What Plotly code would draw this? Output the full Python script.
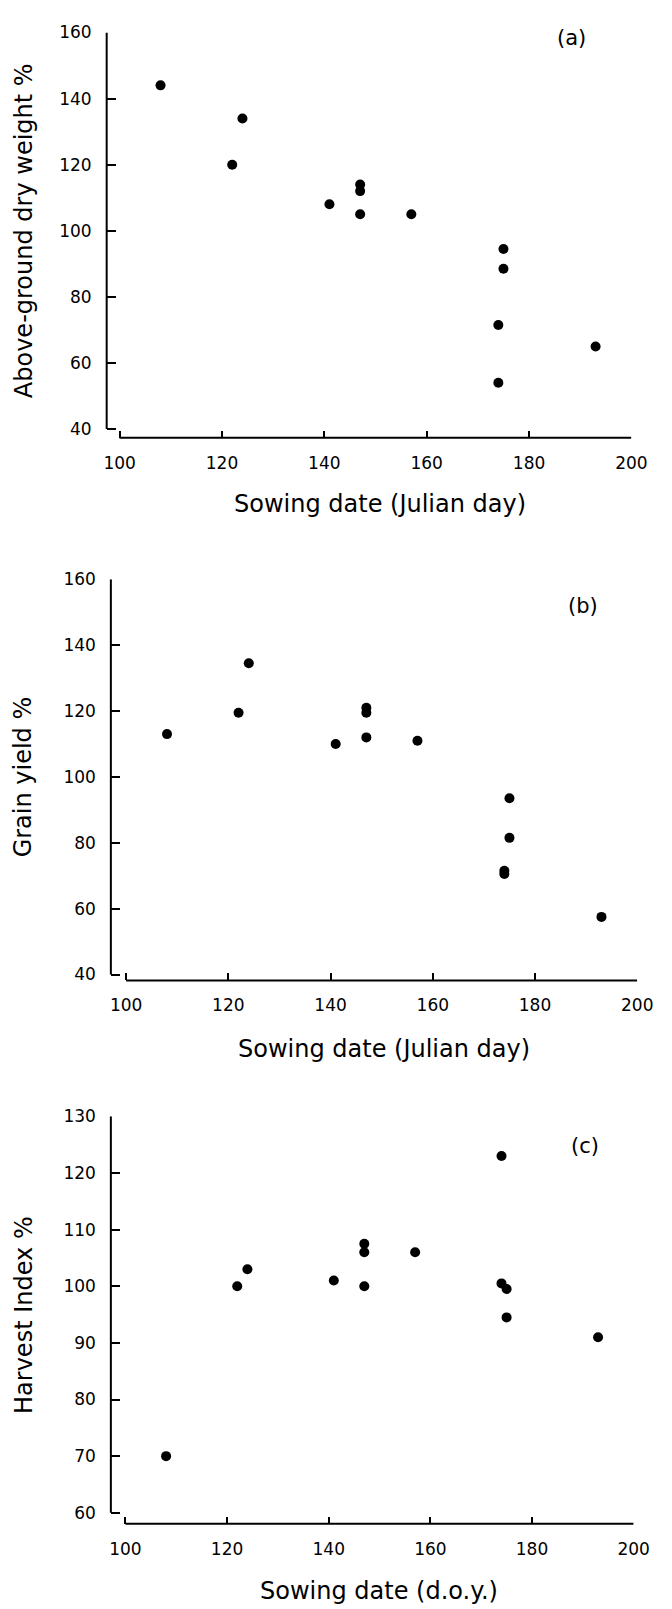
import plotly.graph_objects as go

# Sowing date (Julian day) and relative response (%) for each panel
sow_a = [108, 122, 124, 141, 147, 147, 147, 157, 175, 175, 174, 174, 193]
dry_weight = [144, 120, 134, 108, 114, 112, 105, 105, 94.5, 88.5, 71.5, 54, 65]

sow_b = [108, 122, 124, 141, 147, 147, 147, 157, 175, 175, 174, 174, 193]
grain_yield = [113, 119.5, 134.5, 110, 121, 119.5, 112, 111, 93.5, 81.5, 71.5, 70.5, 57.5]

sow_c = [108, 122, 124, 141, 147, 147, 147, 157, 174, 174, 175, 175, 193]
harvest_index = [70, 100, 103, 101, 107.5, 106, 100, 106, 123, 100.5, 99.5, 94.5, 91]

x_ticks = [100, 120, 140, 160, 180, 200]
y_ticks_ab = [40, 60, 80, 100, 120, 140, 160]
y_ticks_c = [60, 70, 80, 90, 100, 110, 120, 130]

W, H = 672, 1609
FONT = "DejaVu Sans"


def px_x(p):
    return p / W


def px_y(p):
    return 1 - p / H


# Panel frames in pixels. The y-axis line sits left of x=100 and the x-axis
# line sits below the lowest y tick, so the axis lines are detached at the corner.
panels = [
    dict(x=sow_a, y=dry_weight, yline=106.7, x_lo_px=120, x_hi_px=646.7,
         y_hi_px=22.7, y_lo_px=422.7, xline=431.5, yrange=(40, 160), yticks=y_ticks_ab,
         ytitle="Above-ground dry weight %", ytitle_y=222.7,
         xtitle="Sowing date (Julian day)", xtitle_y=498, xtitle_x=388,
         tag="(a)", tag_xy=(584.7, 28.3)),
    dict(x=sow_b, y=grain_yield, yline=111, x_lo_px=126.7, x_hi_px=652.7,
         y_hi_px=574.3, y_lo_px=973, xline=979, yrange=(40, 160), yticks=y_ticks_ab,
         ytitle="Grain yield %", ytitle_y=773.7,
         xtitle="Sowing date (Julian day)", xtitle_y=1048, xtitle_x=392,
         tag="(b)", tag_xy=(597.3, 601.7)),
    dict(x=sow_c, y=harvest_index, yline=111, x_lo_px=126, x_hi_px=649,
         y_hi_px=1116, y_lo_px=1516, xline=1527, yrange=(60, 130), yticks=y_ticks_c,
         ytitle="Harvest Index %", ytitle_y=1316,
         xtitle="Sowing date (d.o.y.)", xtitle_y=1595, xtitle_x=387,
         tag="(c)", tag_xy=(599, 1146)),
]

X_MIN, X_MAX = 100, 200

fig = go.Figure()
annotations = []
shapes = []
axis_common = dict(
    showline=False,
    ticks="inside", tickcolor="black", tickwidth=2,
    showgrid=False, zeroline=False,
    tickfont=dict(family=FONT, size=17, color="black"),
)
line_style = dict(color="black", width=2)

for i, p in enumerate(panels, start=1):
    sfx = "" if i == 1 else str(i)
    xa, ya = "x" + sfx, "y" + sfx

    # extend each range so the domain edge lands on the other axis line
    x_scale = (p["x_hi_px"] - p["x_lo_px"]) / (X_MAX - X_MIN)
    x_range = [X_MIN - (p["x_lo_px"] - p["yline"]) / x_scale, X_MAX]
    y0, y1 = p["yrange"]
    y_scale = (p["y_lo_px"] - p["y_hi_px"]) / (y1 - y0)
    y_range = [y0 - (p["xline"] - p["y_lo_px"]) / y_scale, y1]

    fig.add_trace(go.Scatter(
        x=p["x"], y=p["y"], mode="markers",
        marker=dict(color="black", size=10),
        xaxis=xa, yaxis=ya, showlegend=False,
    ))
    fig.layout["xaxis" + sfx] = dict(
        axis_common, anchor=ya,
        domain=[px_x(p["yline"]), px_x(p["x_hi_px"])],
        range=x_range, tickvals=x_ticks, ticklen=7, ticklabelstandoff=13,
    )
    fig.layout["yaxis" + sfx] = dict(
        axis_common, anchor=xa,
        domain=[px_y(p["xline"]), px_y(p["y_hi_px"])],
        range=y_range, tickvals=p["yticks"], ticklen=9, ticklabelstandoff=14,
    )

    # axis lines spanning only the labelled data range
    shapes.append(dict(type="line", xref=xa, yref=ya + " domain",
                       x0=X_MIN, x1=X_MAX, y0=0, y1=0, line=line_style, layer="above"))
    shapes.append(dict(type="line", xref=xa + " domain", yref=ya,
                       x0=0, x1=0, y0=y0, y1=y1, line=line_style, layer="above"))

    annotations.append(dict(
        text=p["ytitle"], textangle=-90, x=px_x(21), y=px_y(p["ytitle_y"]),
        xref="paper", yref="paper", showarrow=False,
        xanchor="center", yanchor="middle",
        font=dict(family=FONT, size=24, color="black"),
    ))
    annotations.append(dict(
        text=p["xtitle"], x=px_x(p["xtitle_x"]), y=px_y(p["xtitle_y"]),
        xref="paper", yref="paper", showarrow=False,
        xanchor="center", yanchor="middle",
        font=dict(family=FONT, size=24, color="black"),
    ))
    annotations.append(dict(
        text=p["tag"], x=px_x(p["tag_xy"][0]), y=px_y(p["tag_xy"][1]),
        xref="paper", yref="paper", showarrow=False,
        xanchor="center", yanchor="middle",
        font=dict(family=FONT, size=21, color="black"),
    ))

fig.update_layout(
    width=W, height=H,
    margin=dict(l=0, r=0, t=0, b=0),
    paper_bgcolor="white", plot_bgcolor="white",
    showlegend=False, annotations=annotations, shapes=shapes,
)

fig.write_html("out.html")
